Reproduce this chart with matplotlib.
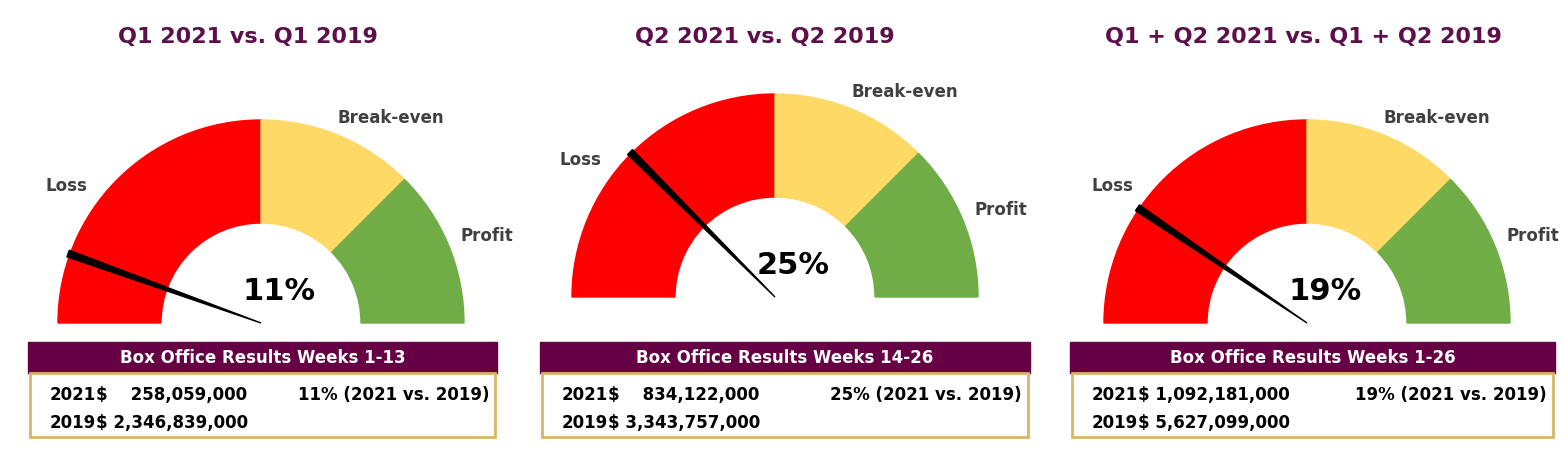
import numpy as np
import matplotlib.pyplot as plt
from matplotlib.patches import Wedge, Polygon, Rectangle

titles = ['Q1 2021 vs. Q1 2019', 'Q2 2021 vs. Q2 2019', 'Q1 + Q2 2021 vs. Q1 + Q2 2019']
pcts = [11, 25, 19]
headers = ['Box Office Results Weeks 1-13', 'Box Office Results Weeks 14-26', 'Box Office Results Weeks 1-26']
rev_2021 = ['$    258,059,000', '$    834,122,000', '$ 1,092,181,000']
rev_2019 = ['$ 2,346,839,000', '$ 3,343,757,000', '$ 5,627,099,000']

centers = [(261, 323), (775, 297), (1307, 323)]
title_x = [248, 765, 1303]
tables = [(28, 497), (540, 1030), (1070, 1555)]

purple = '#5c0f48'
grey = '#404040'

fig = plt.figure(figsize=(15.63, 4.58), dpi=100)
ax = fig.add_axes([0, 0, 1, 1])
ax.set_xlim(0, 1563)
ax.set_ylim(458, 0)
ax.axis('off')

R, r = 203, 100
for i in range(3):
    cx, cy = centers[i]
    # y axis is flipped, so angles go clockwise: use negative angles
    ax.add_patch(Wedge((cx, cy), R, 180, 270, width=R - r, color='#ff0000'))
    ax.add_patch(Wedge((cx, cy), R, 270, 315, width=R - r, color='#ffd966'))
    ax.add_patch(Wedge((cx, cy), R, 315, 360, width=R - r, color='#70ad47'))
    ang = np.radians(180 - pcts[i] / 100 * 180)
    ux, uy = np.cos(ang), -np.sin(ang)
    px, py = -uy, ux
    L = R + 2
    tip = (cx, cy)
    b1 = (cx + ux * L + px * 3.5, cy + uy * L + py * 3.5)
    b2 = (cx + ux * L - px * 3.5, cy + uy * L - py * 3.5)
    ax.add_patch(Polygon([tip, b1, b2], closed=True, color='black', zorder=5))

    ax.text(title_x[i], 37, titles[i], ha='center', va='center', fontsize=16,
            fontweight='bold', color=purple)
    ax.text(cx - 195, cy - 137, 'Loss', ha='center', va='center', fontsize=12,
            fontweight='bold', color=grey)
    ax.text(cx + 130, cy - 205, 'Break-even', ha='center', va='center', fontsize=12,
            fontweight='bold', color=grey)
    ax.text(cx + 226, cy - 87, 'Profit', ha='center', va='center', fontsize=12,
            fontweight='bold', color=grey)
    ax.text(cx + 18, cy - 32, f'{pcts[i]}%', ha='center', va='center', fontsize=22,
            fontweight='bold', color='black')

    x0, x1 = tables[i]
    ax.add_patch(Rectangle((x0, 342), x1 - x0, 31, color='#660044', zorder=3))
    ax.add_patch(Rectangle((x0 + 2, 373), x1 - x0 - 4, 64, facecolor='white',
                           edgecolor='#d9b56a', lw=2, zorder=3))
    ax.text((x0 + x1) / 2, 358, headers[i], ha='center', va='center', fontsize=12,
            fontweight='bold', color='white', zorder=4)
    ax.text(x0 + 22, 395, '2021', ha='left', va='center', fontsize=12,
            fontweight='bold', color='black', zorder=4)
    ax.text(x0 + 22, 423, '2019', ha='left', va='center', fontsize=12,
            fontweight='bold', color='black', zorder=4)
    ax.text(x0 + 68, 395, rev_2021[i], ha='left', va='center', fontsize=12,
            fontweight='bold', color='black', zorder=4)
    ax.text(x0 + 68, 423, rev_2019[i], ha='left', va='center', fontsize=12,
            fontweight='bold', color='black', zorder=4)
    ax.text(x1 - 8, 395, f'{pcts[i]}% (2021 vs. 2019)', ha='right', va='center',
            fontsize=12, fontweight='bold', color='black', zorder=4)

fig.savefig('out.png', dpi=100)
